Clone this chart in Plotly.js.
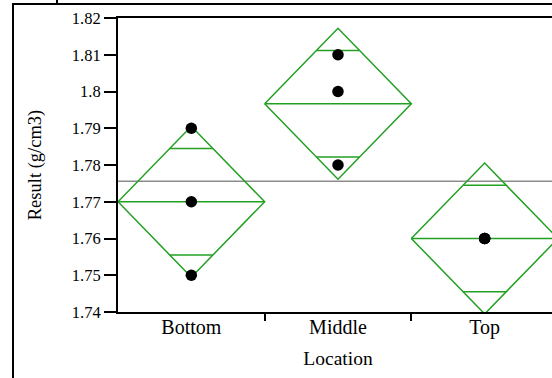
<!DOCTYPE html>
<html>
<head>
<meta charset="utf-8">
<script src="https://cdn.plot.ly/plotly-3.0.1.min.js"></script>
<style>
html,body{margin:0;padding:0;overflow:hidden;background:#fff;width:552px;height:378px;}
#chart{position:absolute;left:0;top:0;}
.outline{position:absolute;background:#000;z-index:10;}
</style>
</head>
<body>
<div id="chart"></div>
<div class="outline" style="left:12px;top:3px;width:2px;height:380px;"></div>
<div class="outline" style="left:12px;top:3px;width:545px;height:2px;"></div>
<div class="outline" style="left:56px;top:0px;width:2px;height:4px;"></div>
<script>
// Data
const categories = ["Bottom", "Middle", "Top"];
const bottomValues = [1.79, 1.77, 1.75];
const middleValues = [1.81, 1.80, 1.78];
const topValues = [1.76, 1.76, 1.76];
const yTickVals = [1.74, 1.75, 1.76, 1.77, 1.78, 1.79, 1.80, 1.81, 1.82];
const yTickText = ["1.74", "1.75", "1.76", "1.77", "1.78", "1.79", "1.8", "1.81", "1.82"];
const confLevelT = 2.447; // t(0.975, df=6)

const groups = [bottomValues, middleValues, topValues];
const means = groups.map(g => g.reduce((a, b) => a + b, 0) / g.length);
const allVals = groups.flat();
const grandMean = allVals.reduce((a, b) => a + b, 0) / allVals.length;
let ss = 0;
groups.forEach((g, i) => g.forEach(v => { ss += (v - means[i]) ** 2; }));
const dfErr = allVals.length - groups.length;
const rootMSE = Math.sqrt(ss / dfErr);
const ciHalf = groups.map(g => confLevelT * rootMSE / Math.sqrt(g.length));
const overlapHalf = ciHalf.map(c => c / Math.sqrt(2));

const green = "#22a022";
const traces = [];
categories.forEach((c, i) => {
  const m = means[i], ci = ciHalf[i], ov = overlapHalf[i];
  traces.push({
    x: [i - 0.5, i, i + 0.5, i, i - 0.5],
    y: [m, m + ci, m, m - ci, m],
    mode: "lines", line: {color: green, width: 1.5}, hoverinfo: "skip", showlegend: false
  });
  traces.push({
    x: [i - 0.5, i + 0.5], y: [m, m],
    mode: "lines", line: {color: green, width: 1.5}, hoverinfo: "skip", showlegend: false
  });
  const hw = 0.5 * (1 - ov / ci);
  [m + ov, m - ov].forEach(yy => {
    traces.push({
      x: [i - hw, i + hw], y: [yy, yy],
      mode: "lines", line: {color: green, width: 1.5}, hoverinfo: "skip", showlegend: false
    });
  });
});
const px = [], py = [];
groups.forEach((g, i) => g.forEach(v => { px.push(i); py.push(v); }));
traces.push({
  x: px, y: py, mode: "markers",
  marker: {color: "#000", size: 11.5}, showlegend: false
});

const font = "Liberation Serif";
const layout = {
  width: 580, height: 378,
  margin: {l: 118, r: 22, t: 18, b: 66},
  paper_bgcolor: "#fff", plot_bgcolor: "#fff",
  showlegend: false,
  font: {family: font, color: "#000", size: 18},
  xaxis: {
    range: [-0.5, 2.5], tickvals: [0, 1, 2], ticktext: categories,
    ticks: "", showgrid: false, zeroline: false,
    showline: true, linecolor: "#000", linewidth: 2, mirror: true,
    tickfont: {family: font, size: 20, color: "#000"},
    ticklabelstandoff: -4,
    minor: {tickvals: [0.5, 1.5], ticks: "outside", ticklen: 7, tickwidth: 2, tickcolor: "#000", showgrid: false},
    title: {text: "Location", font: {family: font, size: 19.5, color: "#000"}, standoff: 13}
  },
  yaxis: {
    range: [1.74, 1.82], tickvals: yTickVals, ticktext: yTickText,
    ticks: "outside", ticklen: 12, tickwidth: 2, tickcolor: "#000",
    showgrid: false, zeroline: false,
    showline: true, linecolor: "#000", linewidth: 2, mirror: true,
    tickfont: {family: font, size: 16.5, color: "#000"},
    title: {text: "Result (g/cm3)", font: {family: font, size: 18.5, color: "#000"}, standoff: 25}
  },
  shapes: [{
    type: "line", xref: "paper", yref: "y", x0: 0, x1: 1, y0: grandMean, y1: grandMean,
    line: {color: "#8c8c8c", width: 1.5}, layer: "below"
  }]
};
Plotly.newPlot("chart", traces, layout, {staticPlot: true, displayModeBar: false});
</script>
</body>
</html>
